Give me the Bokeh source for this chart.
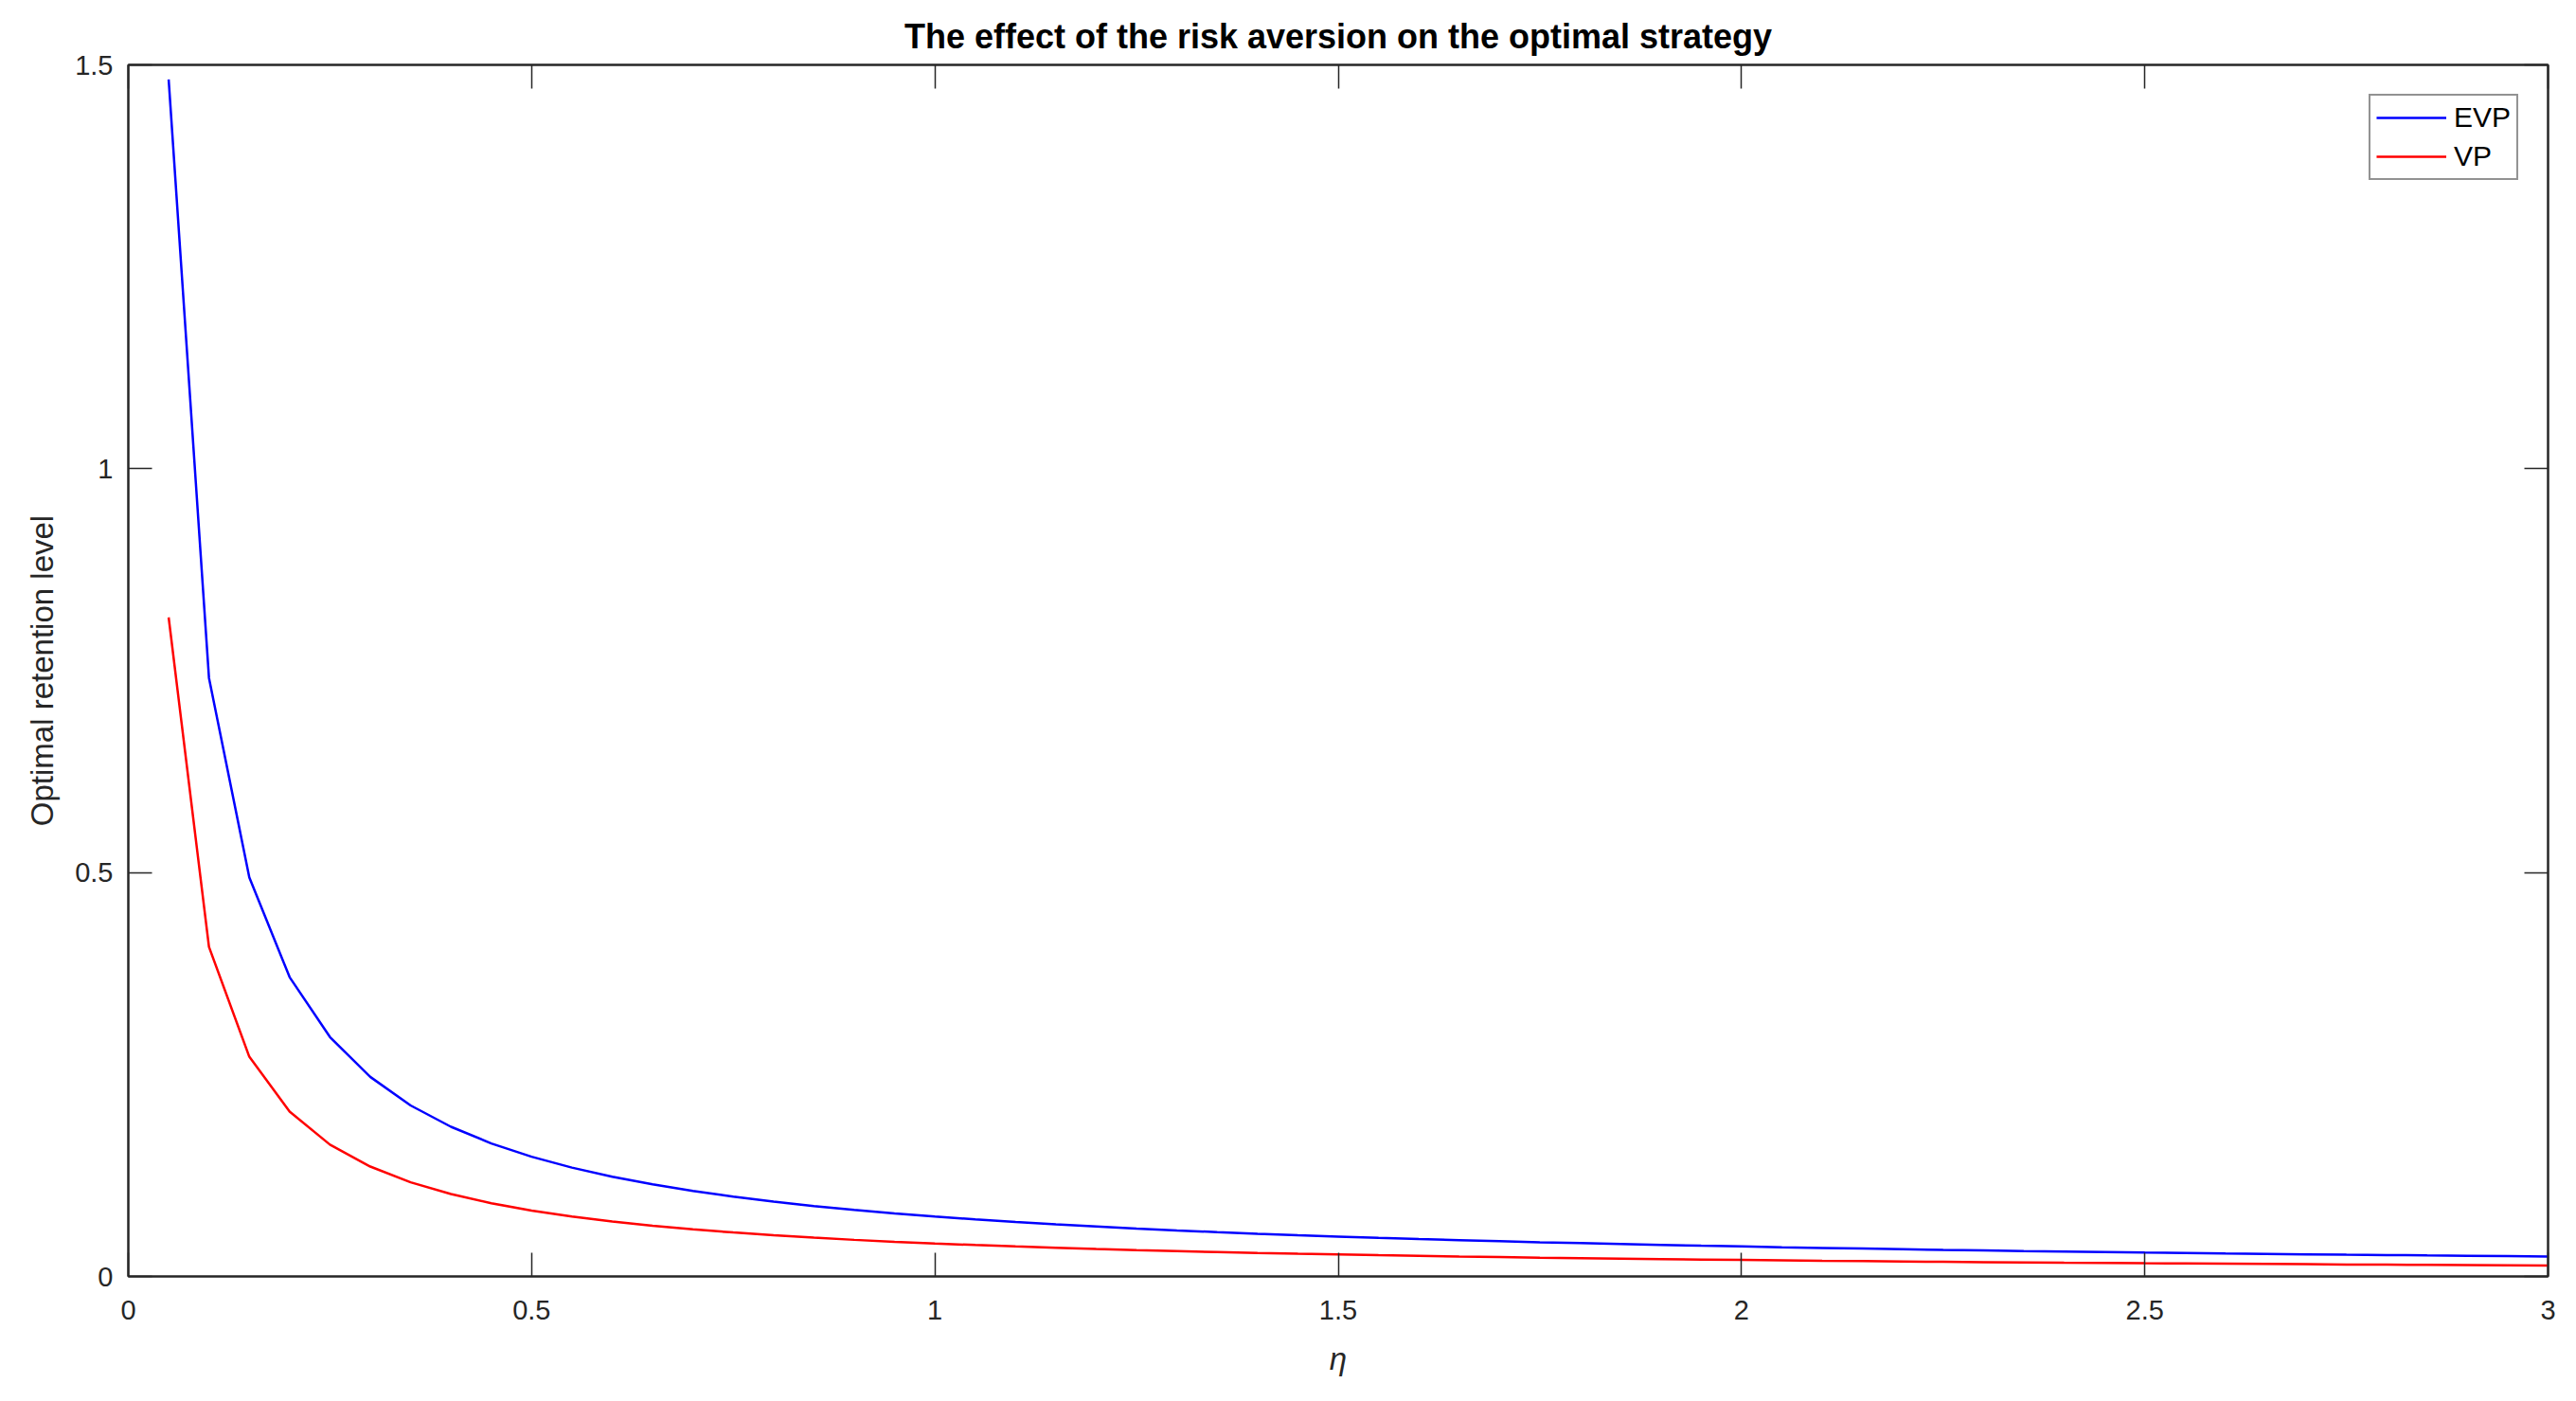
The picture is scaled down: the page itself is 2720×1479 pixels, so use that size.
from bokeh.plotting import figure
from bokeh.models import Range1d, LinearAxis, FixedTicker
from bokeh.embed import file_html
from bokeh.resources import INLINE

# ---- data ----
eta = [0.05, 0.10, 0.15, 0.20, 0.25, 0.30, 0.35, 0.40, 0.45, 0.50,
       0.55, 0.60, 0.65, 0.70, 0.75, 0.80, 0.85, 0.90, 0.95, 1.00,
       1.05, 1.10, 1.15, 1.20, 1.25, 1.30, 1.35, 1.40, 1.45, 1.50,
       1.55, 1.60, 1.65, 1.70, 1.75, 1.80, 1.85, 1.90, 1.95, 2.00,
       2.05, 2.10, 2.15, 2.20, 2.25, 2.30, 2.35, 2.40, 2.45, 2.50,
       2.55, 2.60, 2.65, 2.70, 2.75, 2.80, 2.85, 2.90, 2.95, 3.00]

evp = [1.482, 0.741, 0.494, 0.3705, 0.2964, 0.247, 0.2117, 0.1853, 0.1647, 0.1482,
       0.1347, 0.1235, 0.114, 0.1059, 0.0988, 0.0926, 0.0872, 0.0823, 0.078, 0.0741,
       0.0706, 0.0674, 0.0644, 0.0618, 0.0593, 0.057, 0.0549, 0.0529, 0.0511, 0.0494,
       0.0478, 0.0463, 0.0449, 0.0436, 0.0423, 0.0412, 0.0401, 0.039, 0.038, 0.0371,
       0.0361, 0.0353, 0.0345, 0.0337, 0.0329, 0.0322, 0.0315, 0.0309, 0.0302, 0.0296,
       0.0291, 0.0285, 0.028, 0.0274, 0.0269, 0.0265, 0.026, 0.0256, 0.0251, 0.0247]

vp = [0.816, 0.408, 0.272, 0.204, 0.1632, 0.136, 0.1166, 0.102, 0.0907, 0.0816,
      0.0742, 0.068, 0.0628, 0.0583, 0.0544, 0.051, 0.048, 0.0453, 0.0429, 0.0408,
      0.0389, 0.0371, 0.0355, 0.034, 0.0326, 0.0314, 0.0302, 0.0291, 0.0281, 0.0272,
      0.0263, 0.0255, 0.0247, 0.024, 0.0233, 0.0227, 0.0221, 0.0215, 0.0209, 0.0204,
      0.0199, 0.0194, 0.019, 0.0185, 0.0181, 0.0177, 0.0174, 0.017, 0.0167, 0.0163,
      0.016, 0.0157, 0.0154, 0.0151, 0.0148, 0.0146, 0.0143, 0.0141, 0.0138, 0.0136]

series_names = ["EVP", "VP"]
series_colors = ["#0000ff", "#ff0000"]

x_ticks = [0, 0.5, 1, 1.5, 2, 2.5, 3]
x_tick_labels = ["0", "0.5", "1", "1.5", "2", "2.5", "3"]
y_ticks = [0, 0.5, 1, 1.5]
y_tick_labels = ["0", "0.5", "1", "1.5"]

title_text = "The effect of the risk aversion on the optimal strategy"
x_label = "\u03b7"
y_label = "Optimal retention level"

FONT = "Liberation Sans"
AX = "#262626"

p = figure(width=2704, height=1462, output_backend="svg", toolbar_location=None,
           x_range=Range1d(0, 3), y_range=Range1d(0, 1.5),
           min_border_left=135, min_border_right=14, min_border_top=68, min_border_bottom=115,
           background_fill_color="white", border_fill_color="white")

p.line(eta, evp, line_color=series_colors[0], line_width=2.5, legend_label=series_names[0])
p.line(eta, vp, line_color=series_colors[1], line_width=2.5, legend_label=series_names[1])

p.xgrid.visible = False
p.ygrid.visible = False
p.outline_line_color = AX
p.outline_line_width = 2


def style(ax, ticks, labels, show):
    ax.ticker = FixedTicker(ticks=ticks)
    ax.major_label_overrides = {t: l for t, l in zip(ticks, labels)}
    ax.major_tick_in = 25
    ax.major_tick_out = 0
    ax.minor_tick_line_color = None
    ax.major_tick_line_color = AX
    ax.major_tick_line_width = 1.5
    ax.axis_line_color = AX
    ax.axis_line_width = 2
    ax.major_label_text_font = FONT
    ax.major_label_text_color = AX
    if show:
        ax.major_label_text_font_size = "29px"
    else:
        ax.major_label_text_font_size = "0px"
        ax.major_label_standoff = 0


xa = p.xaxis[0]
ya = p.yaxis[0]
style(xa, x_ticks, x_tick_labels, True)
style(ya, y_ticks, y_tick_labels, True)
xa.major_label_standoff = 25
ya.major_label_standoff = 16

xa.axis_label = x_label
xa.axis_label_text_font = FONT
xa.axis_label_text_font_size = "33px"
xa.axis_label_text_font_style = "italic"
xa.axis_label_text_color = AX
xa.axis_label_standoff = 20

ya.axis_label = y_label
ya.axis_label_text_font = FONT
ya.axis_label_text_font_size = "33px"
ya.axis_label_text_font_style = "normal"
ya.axis_label_text_color = AX
ya.axis_label_standoff = 13

top_ax = LinearAxis()
style(top_ax, x_ticks, ["" for _ in x_tick_labels], False)
p.add_layout(top_ax, "above")
right_ax = LinearAxis()
style(right_ax, y_ticks, ["" for _ in y_tick_labels], False)
p.add_layout(right_ax, "right")

p.title.text = title_text
p.title.align = "center"
p.title.text_font = FONT
p.title.text_font_size = "36px"
p.title.text_font_style = "bold"
p.title.text_color = "#000000"
p.title.standoff = 20

lg = p.legend[0]
lg.location = "top_right"
lg.margin = 31
lg.padding = 6
lg.spacing = 7
lg.glyph_width = 74
lg.glyph_height = 30
lg.label_standoff = 8
lg.label_text_font = FONT
lg.label_text_font_size = "30px"
lg.label_text_color = "#000000"
lg.border_line_color = AX
lg.border_line_width = 2
lg.background_fill_color = "white"
lg.background_fill_alpha = 1.0

open("out.html", "w").write(file_html(p, INLINE))
